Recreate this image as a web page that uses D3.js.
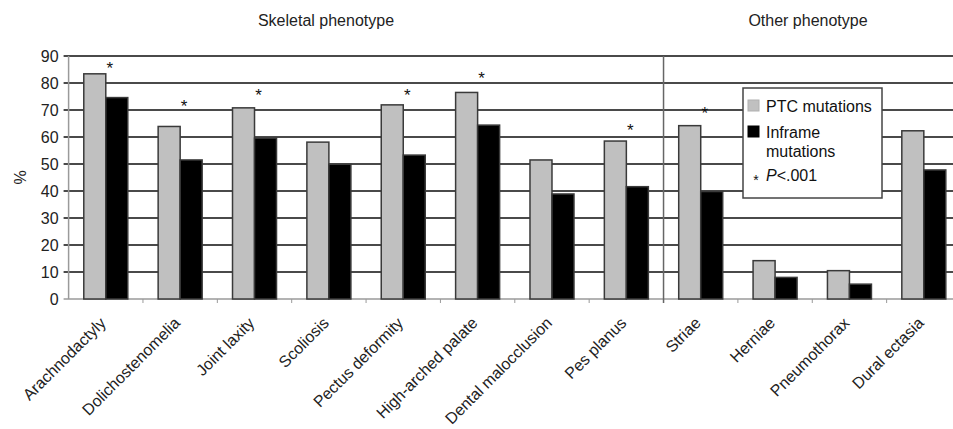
<!DOCTYPE html>
<html>
<head>
<meta charset="utf-8">
<script src="https://cdn.jsdelivr.net/npm/d3@7"></script>
<style>
  body { margin: 0; background: #fff; }
  svg { display: block; font-family: "Liberation Sans", Arial, sans-serif; }
</style>
</head>
<body>
<svg id="chart" width="953" height="429"></svg>
<script>
const categories = [
  "Arachnodactyly", "Dolichostenomelia", "Joint laxity", "Scoliosis",
  "Pectus deformity", "High-arched palate", "Dental malocclusion", "Pes planus",
  "Striae", "Herniae", "Pneumothorax", "Dural ectasia"
];
const seriesNames = ["PTC mutations", "Inframe mutations"];
const ptcValues = [83.4, 63.9, 70.8, 58.1, 71.9, 76.5, 51.5, 58.5, 64.2, 14.2, 10.5, 62.3];
const inframeValues = [74.6, 51.5, 59.6, 49.9, 53.3, 64.4, 38.9, 41.6, 39.8, 8.0, 5.5, 47.8];
// significance stars: category and height (in % units) of the star
const starCategories = ["Arachnodactyly", "Dolichostenomelia", "Joint laxity", "Pectus deformity",
  "High-arched palate", "Pes planus", "Striae"];
const starLevels = [86.6, 72.5, 76.6, 76.6, 83.0, 63.6, 69.9];
const yTicks = [0, 10, 20, 30, 40, 50, 60, 70, 80, 90];
const groups = [
  { name: "Skeletal phenotype", from: "Arachnodactyly", to: "Pes planus" },
  { name: "Other phenotype", from: "Striae", to: "Dural ectasia" }
];
const colors = { "PTC mutations": "#c0c0c0", "Inframe mutations": "#000000" };

const svg = d3.select("#chart");
const width = +svg.attr("width");
const height = +svg.attr("height");
const margin = { top: 56, bottom: 130, left: 68.6, right: -8 };
const innerWidth = width - margin.left - margin.right;
const innerHeight = height - margin.top - margin.bottom;

const data = categories.map((c, i) => ({
  category: c,
  values: [
    { key: seriesNames[0], value: ptcValues[i] },
    { key: seriesNames[1], value: inframeValues[i] }
  ]
}));

const x0 = d3.scaleBand().domain(categories).range([0, innerWidth]).padding(0);
const x1 = d3.scaleBand().domain(seriesNames).range([0, x0.bandwidth()])
  .paddingInner(0).paddingOuter(0.69);
const y = d3.scaleLinear().domain([0, 90]).range([innerHeight, 0]);

const g = svg.append("g").attr("transform", `translate(${margin.left},${margin.top})`);

// gridlines
g.append("g")
  .selectAll("line")
  .data(yTicks)
  .join("line")
  .attr("x1", -5)
  .attr("x2", innerWidth)
  .attr("y1", (d) => y(d))
  .attr("y2", (d) => y(d))
  .attr("stroke", (d) => (d === 0 ? "#9a9a9a" : "#4a4a4a"))
  .attr("stroke-width", (d) => (d === 0 ? 1.5 : 1.8));

// y axis line
g.append("line")
  .attr("x1", 0).attr("x2", 0)
  .attr("y1", 0).attr("y2", innerHeight)
  .attr("stroke", "#9a9a9a")
  .attr("stroke-width", 1.5);

// y tick labels
g.append("g")
  .selectAll("text")
  .data(yTicks)
  .join("text")
  .attr("x", -10)
  .attr("y", (d) => y(d))
  .attr("dy", "0.36em")
  .attr("text-anchor", "end")
  .attr("font-size", 16)
  .attr("fill", "#222")
  .text((d) => d);

// y title
g.append("text")
  .attr("transform", `translate(${20 - margin.left},${y(45)}) rotate(-90)`)
  .attr("text-anchor", "middle")
  .attr("dy", "0.35em")
  .attr("font-size", 16)
  .attr("fill", "#222")
  .text("%");

// x ticks
g.append("g")
  .selectAll("line")
  .data(categories)
  .join("line")
  .attr("x1", (d) => x0(d) + x0.bandwidth())
  .attr("x2", (d) => x0(d) + x0.bandwidth())
  .attr("y1", innerHeight)
  .attr("y2", innerHeight + 4)
  .attr("stroke", "#9a9a9a")
  .attr("stroke-width", 1);

// group separator
const sepX = x0(groups[1].from);
g.append("line")
  .attr("x1", sepX).attr("x2", sepX)
  .attr("y1", 0).attr("y2", innerHeight + 4)
  .attr("stroke", "#666")
  .attr("stroke-width", 1.5);

// bars
const catG = g.append("g")
  .selectAll("g")
  .data(data)
  .join("g")
  .attr("transform", (d) => `translate(${x0(d.category)},0)`);

catG.selectAll("rect")
  .data((d) => d.values)
  .join("rect")
  .attr("x", (d) => x1(d.key))
  .attr("y", (d) => y(d.value))
  .attr("width", x1.bandwidth())
  .attr("height", (d) => innerHeight - y(d.value))
  .attr("fill", (d) => colors[d.key])
  .attr("stroke", "#3a3a3a")
  .attr("stroke-width", 1.5);

// stars
g.append("g")
  .selectAll("text")
  .data(starCategories)
  .join("text")
  .attr("x", (d) => x0(d) + x0.bandwidth() / 2 + 4)
  .attr("y", (d, i) => y(starLevels[i]) + 9)
  .attr("text-anchor", "middle")
  .attr("font-size", 17)
  .attr("fill", "#111")
  .text("*");

// category labels
g.append("g")
  .selectAll("text")
  .data(categories)
  .join("text")
  .attr("transform", (d) => `translate(${x0(d) + x0.bandwidth() / 2 + 1},${innerHeight + 25}) rotate(-45)`)
  .attr("text-anchor", "end")
  .attr("font-size", 16)
  .attr("fill", "#222")
  .text((d) => d);

// group titles
g.append("g")
  .selectAll("text")
  .data(groups)
  .join("text")
  .attr("x", (d, i) => (i === 0 ? 326 : 808) - margin.left)
  .attr("y", 26 - margin.top)
  .attr("text-anchor", "middle")
  .attr("font-size", 16)
  .attr("fill", "#222")
  .text((d) => d.name);

// legend
const legend = svg.append("g").attr("transform", "translate(743,88)");
legend.append("rect")
  .attr("width", 139)
  .attr("height", 110)
  .attr("fill", "#fff")
  .attr("stroke", "#444")
  .attr("stroke-width", 1.5);
legend.selectAll("rect.key")
  .data(seriesNames)
  .join("rect")
  .attr("class", "key")
  .attr("x", 5)
  .attr("y", (d, i) => 12 + i * 26)
  .attr("width", 11)
  .attr("height", 11)
  .attr("fill", (d) => colors[d])
  .attr("stroke", (d) => (d === seriesNames[0] ? "#b0b0b0" : "#000"));
legend.append("text")
  .attr("x", 23).attr("y", 24)
  .attr("font-size", 16).attr("fill", "#111")
  .text("PTC mutations");
legend.append("text")
  .attr("x", 23).attr("y", 50)
  .attr("font-size", 16).attr("fill", "#111")
  .text("Inframe");
legend.append("text")
  .attr("x", 23).attr("y", 69)
  .attr("font-size", 16).attr("fill", "#111")
  .text("mutations");
legend.append("text")
  .attr("x", 13).attr("y", 97)
  .attr("text-anchor", "middle")
  .attr("font-size", 14).attr("fill", "#111")
  .text("*");
const pText = legend.append("text")
  .attr("x", 23).attr("y", 93)
  .attr("font-size", 16).attr("fill", "#111");
pText.append("tspan").attr("font-style", "italic").text("P");
pText.append("tspan").text("<.001");
</script>
</body>
</html>
